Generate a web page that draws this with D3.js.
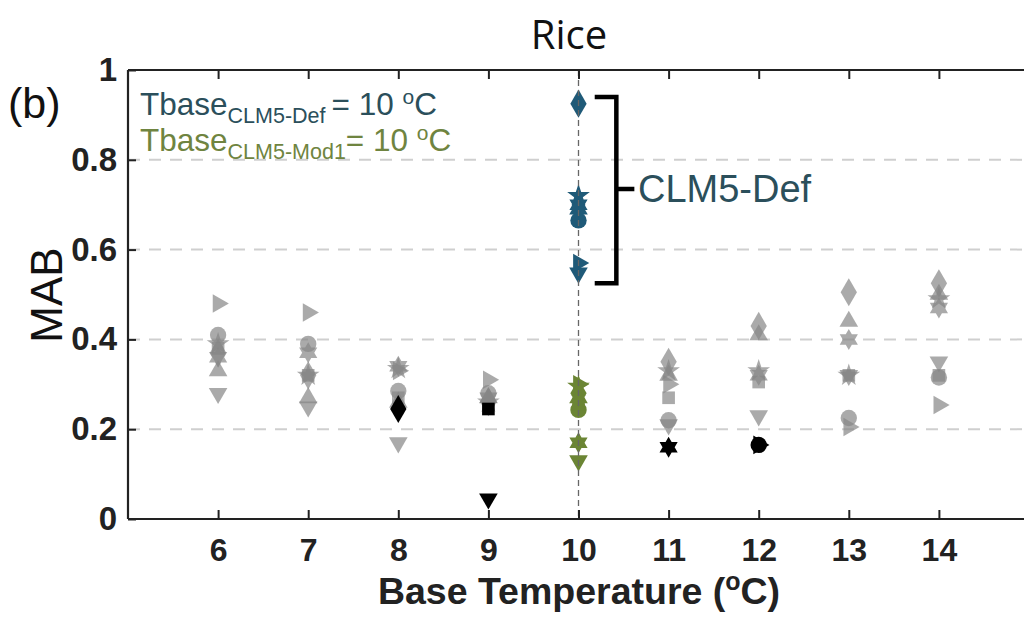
<!DOCTYPE html>
<html>
<head>
<meta charset="utf-8">
<script src="https://cdn.jsdelivr.net/npm/d3@7"></script>
<style>
  html, body { margin: 0; padding: 0; background: #fff; }
  svg { display: block; }
</style>
</head>
<body>
<svg id="chart" width="1024" height="628"></svg>
<script>
// Base temperatures tested (grey columns) and the default base temperature
const temps = [6, 7, 8, 9, 11, 12, 13, 14];
const defaultTemp = 10;
const xTicks = [6, 7, 8, 9, 10, 11, 12, 13, 14];
const yTicks = [0, 0.2, 0.4, 0.6, 0.8, 1];
const yTickLabels = ["0", "0.2", "0.4", "0.6", "0.8", "1"];

// One marker shape per site
const markers = ["circle", "triangleUp", "triangleDown", "triangleRight",
                 "square", "diamond", "hexagram", "pentagram"];

// MAB at each tested base temperature (order follows temps)
const circleMAB        = [0.41, 0.39, 0.285, 0.28, 0.22, 0.165, 0.225, 0.315];
const triangleUpMAB    = [0.33, 0.27, 0.26, 0.27, 0.32, 0.41, 0.44, 0.50];
const triangleDownMAB  = [0.28, 0.25, 0.17, 0.045, 0.21, 0.23, 0.32, 0.35];
const triangleRightMAB = [0.48, 0.46, 0.33, 0.31, 0.30, 0.165, 0.205, 0.254];
const squareMAB        = [0.38, 0.32, 0.27, 0.245, 0.27, 0.305, 0.32, 0.32];
const diamondMAB       = [0.37, 0.32, 0.245, 0.26, 0.35, 0.43, 0.505, 0.525];
const hexagramMAB      = [0.36, 0.37, 0.34, 0.27, 0.16, 0.32, 0.40, 0.47];
const pentagramMAB     = [0.39, 0.32, 0.335, 0.26, 0.33, 0.33, 0.32, 0.49];
const testedMAB = [circleMAB, triangleUpMAB, triangleDownMAB, triangleRightMAB,
                   squareMAB, diamondMAB, hexagramMAB, pentagramMAB];

// Base temperature giving the lowest MAB per site (null: none among tested)
const bestTemp = [12, null, 9, 12, 9, 8, 11, null];

// MAB at 10 °C for the two model versions (order follows markers)
const defMAB  = [0.665, 0.69, 0.548, 0.57, 0.695, 0.925, 0.70, 0.72];
const mod1MAB = [0.243, 0.27, 0.13, 0.30, 0.255, 0.28, 0.17, 0.295];

const colDef = "#1f5a78", colDefText = "#2b4f5b";
const colMod = "#6b8534", colModText = "#6f8440";
const colGrey = "#868686";

const svg = d3.select("#chart");
const x = d3.scaleLinear().domain([5, 15]).range([128, 1029]);
const y = d3.scaleLinear().domain([0, 1]).range([519, 70]);

const font = "'Liberation Sans', Arial, sans-serif";

// grid lines
svg.append("g").selectAll("line")
  .data([0.2, 0.4, 0.6, 0.8]).join("line")
  .attr("x1", x(5)).attr("x2", x(15))
  .attr("y1", d => y(d)).attr("y2", d => y(d))
  .attr("stroke", "#cfcfcf").attr("stroke-width", 2)
  .attr("stroke-dasharray", "12,9");

// symbol generator
function hexagramPath(r) {
  const pts = [];
  for (let i = 0; i < 12; i++) {
    const a = -Math.PI / 2 + i * Math.PI / 6;
    const rr = i % 2 === 0 ? r : r / Math.sqrt(3);
    pts.push([rr * Math.cos(a), rr * Math.sin(a)]);
  }
  return "M" + pts.map(p => p.join(",")).join("L") + "Z";
}
const symPath = {
  circle: d3.symbol(d3.symbolCircle, 210)(),
  triangleUp: d3.symbol(d3.symbolTriangle, 150)(),
  triangleDown: d3.symbol(d3.symbolTriangle, 150)(),
  triangleRight: d3.symbol(d3.symbolTriangle, 150)(),
  square: d3.symbol(d3.symbolSquare, 160)(),
  diamond: d3.symbol(d3.symbolDiamond, 230)(),
  hexagram: hexagramPath(10.5),
  pentagram: d3.symbol(d3.symbolStar, 160)()
};
const symRot = { triangleDown: 180, triangleRight: 90 };

function drawMarker(g, shape, t, v, fill, opacity) {
  g.append("path")
    .attr("d", symPath[shape])
    .attr("transform", `translate(${x(t)},${y(v)}) rotate(${symRot[shape] || 0})`)
    .attr("fill", fill)
    .attr("fill-opacity", opacity);
}

// tested base temperatures
const gTest = svg.append("g");
markers.forEach((m, i) => {
  temps.forEach((t, j) => {
    if (bestTemp[i] !== t) drawMarker(gTest, m, t, testedMAB[i][j], colGrey, 0.7);
  });
});
// lowest MAB per site
markers.forEach((m, i) => {
  if (bestTemp[i] !== null) {
    const j = temps.indexOf(bestTemp[i]);
    drawMarker(gTest, m, bestTemp[i], testedMAB[i][j], "#000", 1);
  }
});
// default-temperature results
markers.forEach((m, i) => drawMarker(gTest, m, defaultTemp, defMAB[i], colDef, 1));
markers.forEach((m, i) => drawMarker(gTest, m, defaultTemp, mod1MAB[i], colMod, 1));

// dashed line at default base temperature
svg.append("line")
  .attr("x1", x(defaultTemp)).attr("x2", x(defaultTemp))
  .attr("y1", y(1)).attr("y2", y(0))
  .attr("stroke", "#666").attr("stroke-width", 1.3)
  .attr("stroke-dasharray", "6,4");

// axes frame
const axisG = svg.append("g").attr("stroke", "#222").attr("stroke-width", 2.2);
axisG.append("line").attr("x1", x(5)).attr("x2", x(15)).attr("y1", y(0)).attr("y2", y(0));
axisG.append("line").attr("x1", x(5)).attr("x2", x(15)).attr("y1", y(1)).attr("y2", y(1));
axisG.append("line").attr("x1", x(5)).attr("x2", x(5)).attr("y1", y(0)).attr("y2", y(1));

// bottom axis (inward ticks) and matching top ticks
const xAxis = svg.append("g").attr("transform", `translate(0,${y(0)})`)
  .call(d3.axisBottom(x).tickValues(xTicks).tickSizeInner(-9).tickSizeOuter(0).tickPadding(19));
xAxis.select(".domain").remove();
xAxis.selectAll(".tick line").attr("stroke", "#222").attr("stroke-width", 2);
xAxis.selectAll(".tick text")
  .attr("font-family", font).attr("font-weight", "bold").attr("font-size", 32)
  .attr("fill", "#222");

const xTop = svg.append("g").attr("transform", `translate(0,${y(1)})`)
  .call(d3.axisTop(x).tickValues(xTicks).tickSizeInner(-9).tickSizeOuter(0).tickFormat(""));
xTop.select(".domain").remove();
xTop.selectAll(".tick line").attr("stroke", "#222").attr("stroke-width", 2);

const yAxis = svg.append("g").attr("transform", `translate(${x(5)},0)`)
  .call(d3.axisLeft(y).tickValues(yTicks).tickSizeInner(-8).tickSizeOuter(0)
        .tickPadding(11).tickFormat((d, i) => yTickLabels[i]));
yAxis.select(".domain").remove();
yAxis.selectAll(".tick line").attr("stroke", "#222").attr("stroke-width", 2);
yAxis.selectAll(".tick text")
  .attr("font-family", font).attr("font-weight", "bold").attr("font-size", 33)
  .attr("fill", "#222");

// axis titles
const xl = svg.append("text")
  .attr("x", 579).attr("y", 604)
  .attr("text-anchor", "middle")
  .attr("font-family", font).attr("font-weight", "bold").attr("font-size", 37.5)
  .attr("fill", "#222");
xl.append("tspan").text("Base Temperature (");
xl.append("tspan").attr("dy", -14).attr("font-size", 25).text("o");
xl.append("tspan").attr("dy", 14).text("C)");

svg.append("text")
  .attr("transform", "translate(62,295) rotate(-90)")
  .attr("text-anchor", "middle")
  .attr("font-family", font).attr("font-size", 44)
  .attr("fill", "#111").text("MAB");

svg.append("text")
  .attr("x", 569).attr("y", 49).attr("text-anchor", "middle")
  .attr("font-family", "'Open Sans', sans-serif").attr("font-size", 40)
  .attr("fill", "#111").text("Rice");

svg.append("text")
  .attr("x", 8).attr("y", 118)
  .attr("font-family", font).attr("font-size", 43)
  .attr("fill", "#111").text("(b)");

// base temperature annotations
function tbaseLabel(yPos, sub, color) {
  const t = svg.append("text").attr("x", 140).attr("y", yPos)
    .attr("font-family", font).attr("font-size", 31.5).attr("fill", color);
  t.append("tspan").text("Tbase");
  t.append("tspan").attr("dy", 8).attr("font-size", 21.5).text(sub);
  t.append("tspan").attr("dy", -8).text("= 10 ");
  t.append("tspan").attr("dy", -11).attr("font-size", 21).text("o");
  t.append("tspan").attr("dy", 11).text("C");
}
tbaseLabel(115, "CLM5-Def ", colDefText);
tbaseLabel(151, "CLM5-Mod1", colModText);

// bracket grouping the default-model points
const bTop = y(0.94), bBot = y(0.525), bMid = y(0.735);
svg.append("path")
  .attr("d", `M${x(10.18)},${bTop} H${x(10.42)} V${bBot} H${x(10.18)} M${x(10.42)},${bMid} H${x(10.62)}`)
  .attr("fill", "none").attr("stroke", "#000").attr("stroke-width", 4.5);
svg.append("text")
  .attr("x", x(10.66)).attr("y", bMid + 13)
  .attr("font-family", font).attr("font-size", 38)
  .attr("fill", colDefText).text("CLM5-Def");
</script>
</body>
</html>
